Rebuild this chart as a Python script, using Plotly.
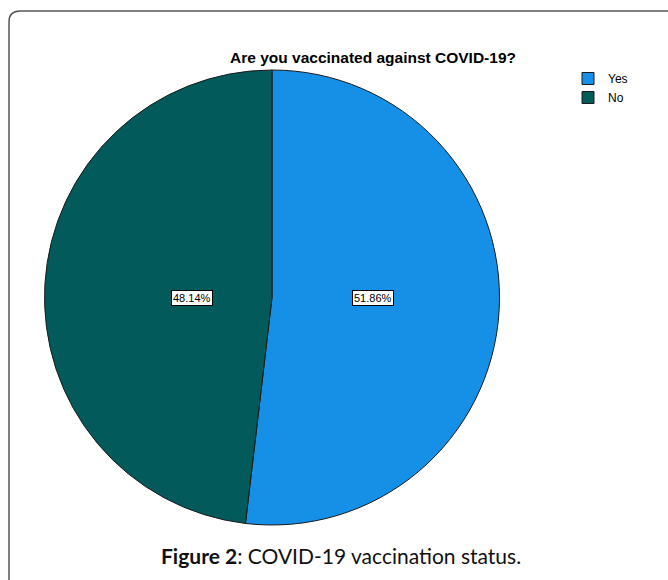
import math
import plotly.graph_objects as go

# Survey responses
categories = ["Yes", "No"]
percentages = [51.86, 48.14]
slice_colors = ["#1690e6", "#025a5a"]

W, H = 668, 580
# Pie placement in pixels (left, right, top, bottom)
pie_l, pie_r, pie_t, pie_b = 44, 500, 70, 525

fig = go.Figure()
fig.add_trace(go.Pie(
    labels=categories,
    values=percentages,
    sort=False,
    direction="clockwise",
    rotation=0,
    marker=dict(colors=slice_colors, line=dict(color="#1b1b1b", width=1)),
    textinfo="none",
    hoverinfo="label+percent",
    domain=dict(x=[pie_l / W, pie_r / W], y=[1 - pie_b / H, 1 - pie_t / H]),
))

# Percentage labels in boxes, placed on the horizontal through the centre,
# on the side of each slice's mid-angle
cx = (pie_l + pie_r) / 2 / W
cy = 1 - (pie_t + pie_b) / 2 / H
rad_px = min(pie_r - pie_l, pie_b - pie_t) / 2
total = sum(percentages)
start = 0.0
annotations = []
for val in percentages:
    mid = (start + val / 2) / total * 2 * math.pi
    start += val
    dx = math.sin(mid) * rad_px * 0.445
    annotations.append(dict(
        x=cx + dx / W, y=cy, xref="paper", yref="paper",
        text=f"{val:.2f}%", showarrow=False,
        font=dict(family="Liberation Sans, Arial", size=11, color="#000"),
        bgcolor="#ffffff", bordercolor="#000000", borderwidth=1, borderpad=1,
    ))

# Chart title
annotations.append(dict(
    x=373 / W, y=1 - 58 / H, xref="paper", yref="paper",
    text="<b>Are you vaccinated against COVID-19?</b>", showarrow=False,
    font=dict(family="Liberation Sans, Arial", size=15.5, color="#000"),
    xanchor="center", yanchor="middle",
))

# Caption
annotations.append(dict(
    x=341 / W, y=1 - 555 / H, xref="paper", yref="paper",
    text="<b>Figure 2</b>: COVID-19 vaccination status.", showarrow=False,
    font=dict(family="Lato, Open Sans, sans-serif", size=21, color="#111"),
    xanchor="center", yanchor="middle",
))

# Frame with a rounded top-left corner
x0, y0, rr = 9 / W, 1 - 11 / H, 11
frame = (f"M {x0},{-0.1} L {x0},{1 - (11 + rr) / H} "
         f"Q {x0},{y0} {(9 + rr) / W},{y0} L {1.1},{y0}")

fig.update_layout(
    width=W, height=H,
    margin=dict(l=0, r=0, t=0, b=0),
    paper_bgcolor="#ffffff",
    plot_bgcolor="#ffffff",
    showlegend=True,
    legend=dict(
        x=568 / W, y=1 - 64 / H, xanchor="left", yanchor="top",
        font=dict(family="Liberation Sans, Arial", size=12, color="#000"),
        itemwidth=30, tracegroupgap=0, bgcolor="rgba(0,0,0,0)",
    ),
    annotations=annotations,
    shapes=[dict(type="path", path=frame, xref="paper", yref="paper",
                 line=dict(color="#555555", width=1.5))],
)

fig.write_html("out.html")
